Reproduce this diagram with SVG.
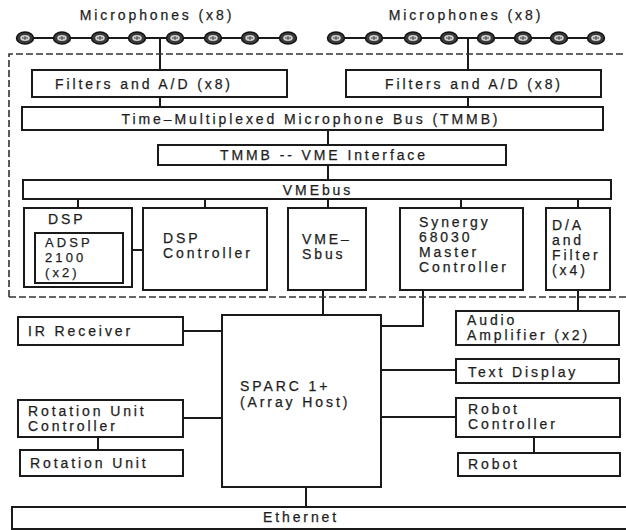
<svg xmlns="http://www.w3.org/2000/svg" xmlns:xlink="http://www.w3.org/1999/xlink" width="626" height="530" viewBox="0 0 626 530">
<style>
  .box { fill: #ffffff; stroke: #1a1a1a; stroke-width: 2; }
  .ln { stroke: #1a1a1a; stroke-width: 2; fill: none; }
  .dash { stroke: #333; stroke-width: 1.6; fill: none; stroke-dasharray: 7 3; }
  text { font-family: "Liberation Sans", Arial, sans-serif; font-size: 14px; letter-spacing: 2.9px; fill: #1e1e1e; stroke: #1e1e1e; stroke-width: 0.25px; }
  .c { text-anchor: middle; }
  .sm { font-size: 13px; letter-spacing: 3.1px; }
</style>
<defs>
  <g id="mic">
    <ellipse cx="0" cy="0" rx="8.5" ry="6" fill="#3a3a3a" stroke="#111" stroke-width="1.5"/>
    <ellipse cx="0" cy="0" rx="4.8" ry="3" fill="#d0d0d0"/>
    <path d="M -3 0 H 3 M 0 -2 V 2" stroke="#444" stroke-width="1"/>
  </g>
</defs>
<rect width="626" height="530" fill="#ffffff"/>

<g id="connectors">
  <line class="ln" x1="25" y1="38" x2="288" y2="38"/>
  <line class="ln" x1="160" y1="38" x2="160" y2="70"/>
  <line class="ln" x1="336" y1="38" x2="596" y2="38"/>
  <line class="ln" x1="468" y1="38" x2="468" y2="70"/>
  <line class="ln" x1="160" y1="97" x2="160" y2="107"/>
  <line class="ln" x1="468" y1="97" x2="468" y2="107"/>
  <line class="ln" x1="328" y1="130" x2="328" y2="145"/>
  <line class="ln" x1="328" y1="165" x2="328" y2="180"/>
  <line class="ln" x1="78" y1="199" x2="78" y2="208"/>
  <line class="ln" x1="205" y1="199" x2="205" y2="208"/>
  <line class="ln" x1="328" y1="199" x2="328" y2="208"/>
  <line class="ln" x1="461" y1="199" x2="461" y2="208"/>
  <line class="ln" x1="578" y1="199" x2="578" y2="208"/>
  <line class="ln" x1="132" y1="250" x2="143" y2="250"/>
  <line class="ln" x1="323" y1="290" x2="323" y2="315"/>
  <path class="ln" d="M 423 290 V 326 H 381"/>
  <line class="ln" x1="578" y1="290" x2="578" y2="311"/>
  <line class="ln" x1="183" y1="331" x2="222" y2="331"/>
  <line class="ln" x1="183" y1="418" x2="222" y2="418"/>
  <line class="ln" x1="98" y1="437" x2="98" y2="450"/>
  <line class="ln" x1="381" y1="370" x2="456" y2="370"/>
  <line class="ln" x1="381" y1="417" x2="456" y2="417"/>
  <line class="ln" x1="534" y1="437" x2="534" y2="453"/>
  <line class="ln" x1="306" y1="487" x2="306" y2="507"/>
</g>

<g id="dashed-boundary">
  <path class="dash" d="M 9 297 V 54 H 628"/>
  <path class="dash" d="M 9 297 H 628"/>
</g>

<g id="mics-left">
  <text class="c" x="157" y="20">Microphones (x8)</text>
  <use xlink:href="#mic" x="25" y="38"/>
  <use xlink:href="#mic" x="62" y="38"/>
  <use xlink:href="#mic" x="100" y="38"/>
  <use xlink:href="#mic" x="137" y="38"/>
  <use xlink:href="#mic" x="175" y="38"/>
  <use xlink:href="#mic" x="213" y="38"/>
  <use xlink:href="#mic" x="250" y="38"/>
  <use xlink:href="#mic" x="288" y="38"/>
</g>
<g id="mics-right">
  <text class="c" x="466" y="20">Microphones (x8)</text>
  <use xlink:href="#mic" x="336" y="38"/>
  <use xlink:href="#mic" x="374" y="38"/>
  <use xlink:href="#mic" x="413" y="38"/>
  <use xlink:href="#mic" x="449" y="38"/>
  <use xlink:href="#mic" x="486" y="38"/>
  <use xlink:href="#mic" x="523" y="38"/>
  <use xlink:href="#mic" x="559" y="38"/>
  <use xlink:href="#mic" x="596" y="38"/>
</g>

<g id="filters-left">
  <rect class="box" x="32" y="70" width="255" height="27"/>
  <text class="c" x="144" y="89">Filters and A/D (x8)</text>
</g>
<g id="filters-right">
  <rect class="box" x="346" y="70" width="255" height="27"/>
  <text class="c" x="474" y="89">Filters and A/D (x8)</text>
</g>
<g id="tmmb">
  <rect class="box" x="22" y="107" width="581" height="23"/>
  <text class="c" x="311" y="124">Time–Multiplexed Microphone Bus (TMMB)</text>
</g>
<g id="tmmb-vme">
  <rect class="box" x="158" y="145" width="348" height="20"/>
  <text class="c" x="324" y="160">TMMB -- VME Interface</text>
</g>
<g id="vmebus">
  <rect class="box" x="23" y="180" width="588" height="19"/>
  <text class="c" x="318" y="195">VMEbus</text>
</g>
<g id="dsp">
  <rect class="box" x="24" y="208" width="108" height="79"/>
  <text x="48" y="224">DSP</text>
</g>
<g id="adsp">
  <rect class="box" x="35" y="233" width="88" height="50"/>
  <text class="sm" x="45" y="247">ADSP</text>
  <text class="sm" x="45" y="262">2100</text>
  <text class="sm" x="45" y="277">(x2)</text>
</g>
<g id="dsp-controller">
  <rect class="box" x="143" y="208" width="124" height="82"/>
  <text x="163" y="243">DSP</text>
  <text x="163" y="258">Controller</text>
</g>
<g id="vme-sbus">
  <rect class="box" x="288" y="208" width="78" height="82"/>
  <text x="302" y="244">VME–</text>
  <text x="302" y="259">Sbus</text>
</g>
<g id="synergy">
  <rect class="box" x="400" y="208" width="123" height="82"/>
  <text x="419" y="227">Synergy</text>
  <text x="419" y="242">68030</text>
  <text x="419" y="257">Master</text>
  <text x="419" y="272">Controller</text>
</g>
<g id="da-filter">
  <rect class="box" x="546" y="208" width="64" height="82"/>
  <text x="552" y="230">D/A</text>
  <text x="552" y="245">and</text>
  <text x="552" y="260">Filter</text>
  <text x="552" y="275">(x4)</text>
</g>
<g id="sparc">
  <rect class="box" x="222" y="315" width="159" height="172"/>
  <text x="240" y="391">SPARC 1+</text>
  <text x="240" y="407">(Array Host)</text>
</g>
<g id="ir-receiver">
  <rect class="box" x="18" y="317" width="165" height="28"/>
  <text x="28" y="336">IR Receiver</text>
</g>
<g id="rotation-controller">
  <rect class="box" x="18" y="400" width="165" height="37"/>
  <text x="28" y="416">Rotation Unit</text>
  <text x="28" y="431">Controller</text>
</g>
<g id="rotation-unit">
  <rect class="box" x="20" y="450" width="163" height="26"/>
  <text x="30" y="468">Rotation Unit</text>
</g>
<g id="audio-amplifier">
  <rect class="box" x="456" y="311" width="163" height="34"/>
  <text x="467" y="325">Audio</text>
  <text x="467" y="340">Amplifier (x2)</text>
</g>
<g id="text-display">
  <rect class="box" x="456" y="359" width="163" height="24"/>
  <text x="468" y="377">Text Display</text>
</g>
<g id="robot-controller">
  <rect class="box" x="456" y="398" width="164" height="39"/>
  <text x="468" y="414">Robot</text>
  <text x="468" y="429">Controller</text>
</g>
<g id="robot">
  <rect class="box" x="458" y="453" width="162" height="23"/>
  <text x="468" y="469">Robot</text>
</g>
<g id="ethernet">
  <rect class="box" x="12" y="507" width="620" height="22"/>
  <text class="c" x="301" y="522">Ethernet</text>
</g>
</svg>
